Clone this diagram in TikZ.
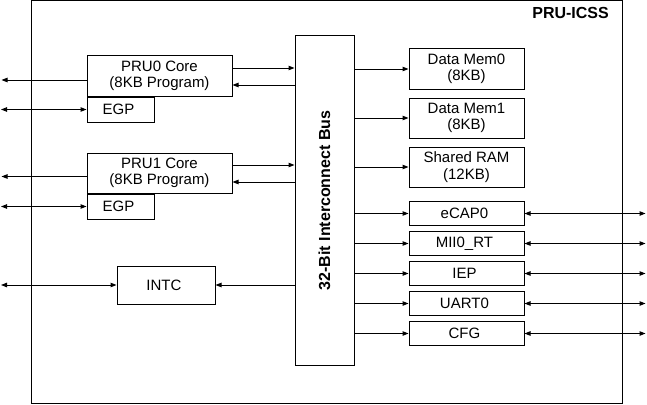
\documentclass[tikz,border=0pt]{standalone}
\usepackage{fontspec}
\setmainfont{Liberation Sans}
\usepackage{tikz}
\usetikzlibrary{
  arrows.meta,
  positioning,
  calc
}
\tikzset{
  block/.style={
    draw,
    line width=1pt,
    inner sep=0pt,
    align=center,
    font=\fontsize{15}{16.5}\selectfont
  },
  corebox/.style={
    block,
    minimum width=145pt,
    minimum height=40pt
  },
  egpbox/.style={
    block,
    minimum width=67pt,
    minimum height=25pt
  },
  membox/.style={
    block,
    minimum width=115pt,
    minimum height=40pt
  },
  periph/.style={
    block,
    minimum width=115pt,
    minimum height=24pt
  },
  busbox/.style={
    block,
    minimum width=59pt,
    minimum height=329pt
  },
  frame/.style={
    draw,
    line width=1pt,
    inner sep=0pt
  },
  title/.style={
    inner sep=0pt,
    font=\fontsize{16}{18}\selectfont\bfseries
  },
  connection/.style={
    -{Triangle[length=6pt,width=4.5pt]},
    line width=1pt
  },
  bidir/.style={
    {Triangle[length=6pt,width=4.5pt]}-{Triangle[length=6pt,width=4.5pt]},
    line width=1pt
  }
}
\begin{document}
\begin{tikzpicture}[
  x=1pt,
  y=-1pt
]

  \useasboundingbox (0,0) rectangle (647,404);

  % subsystem frame
  \node[
    frame,
    minimum width=591pt,
    minimum height=402pt
  ] (icss) at (326.5,202) {};

  \node[
    title,
    anchor=base east
  ] (icsslabel) at (609,19) {
    PRU-ICSS
  };

  % cores
  \node[
    corebox
  ] (pru0) at (159.5,76) {
    PRU0 Core\\(8KB Program)
  };

  \node[
    egpbox,
    anchor=north west
  ] (egp0) at (pru0.south west) {
    EGP
  };

  \node[
    corebox
  ] (pru1) at (159.5,173) {
    PRU1 Core\\(8KB Program)
  };

  \node[
    egpbox,
    anchor=north west
  ] (egp1) at (pru1.south west) {
    EGP
  };

  \node[
    block,
    minimum width=98pt,
    minimum height=38pt
  ] (intc) at (166,285) {
    INTC
  };

  % interconnect
  \node[
    busbox
  ] (bus) at (324.5,200.5) {};

  \node[
    title,
    rotate=90
  ] (buslabel) at (bus.center) {
    32-Bit Interconnect Bus
  };

  % memories
  \node[
    membox
  ] (dmem0) at (466.5,69) {
    Data Mem0\\(8KB)
  };

  \node[
    membox,
    below=8pt of dmem0
  ] (dmem1) {
    Data Mem1\\(8KB)
  };

  \node[
    membox,
    below=8pt of dmem1
  ] (sram) {
    Shared RAM\\(12KB)
  };

  % peripherals
  \node[
    periph,
    below=13.5pt of sram
  ] (ecap) {
    eCAP0
  };

  \node[
    periph,
    below=5pt of ecap
  ] (mii) {
    MII0\_RT
  };

  \node[
    periph,
    below=5pt of mii
  ] (iep) {
    IEP
  };

  \node[
    periph,
    below=5pt of iep
  ] (uart) {
    UART0
  };

  \node[
    periph,
    below=5pt of uart
  ] (cfg) {
    CFG
  };

  % pins
  \coordinate (pru0pin) at (1.5,80);
  \coordinate (egp0pin) at ($(egp0.west)+(-85.5,0)$);
  \coordinate (pru1pin) at (1.5,176.5);
  \coordinate (egp1pin) at ($(egp1.west)+(-85.5,0)$);
  \coordinate (intcpin) at ($(intc.west)+(-115.5,0)$);
  \coordinate (ecappin) at ($(ecap.east)+(121,0)$);
  \coordinate (miipin) at ($(mii.east)+(121,0)$);
  \coordinate (ieppin) at ($(iep.east)+(121,0)$);
  \coordinate (uartpin) at ($(uart.east)+(121,0)$);
  \coordinate (cfgpin) at ($(cfg.east)+(121,0)$);

  \coordinate (pru0tx) at ([yshift=8pt]pru0.east);
  \coordinate (pru0rx) at ([yshift=-9pt]pru0.east);
  \coordinate (pru1tx) at ([yshift=8pt]pru1.east);
  \coordinate (pru1rx) at ([yshift=-9pt]pru1.east);

  % core links
  \draw[connection]
  ([yshift=-4pt]pru0.west) --
  (pru0pin);

  \draw[bidir]
  (egp0pin) --
  (egp0.west);

  \draw[connection]
  (pru0tx) --
  (pru0tx -| bus.west);

  \draw[connection]
  (pru0rx -| bus.west) --
  (pru0rx);

  \draw[connection]
  ([yshift=-3.5pt]pru1.west) --
  (pru1pin);

  \draw[bidir]
  (egp1pin) --
  (egp1.west);

  \draw[connection]
  (pru1tx) --
  (pru1tx -| bus.west);

  \draw[connection]
  (pru1rx -| bus.west) --
  (pru1rx);

  \draw[bidir]
  (intcpin) --
  (intc.west);

  \draw[connection]
  (bus.west |- intc.east) --
  (intc.east);

  % bus to memories
  \draw[connection]
  (bus.east |- dmem0.west) --
  (dmem0.west);

  \draw[connection]
  (bus.east |- dmem1.west) --
  (dmem1.west);

  \draw[connection]
  (bus.east |- sram.west) --
  (sram.west);

  % bus to peripherals
  \draw[connection]
  (bus.east |- ecap.west) --
  (ecap.west);

  \draw[connection]
  (bus.east |- mii.west) --
  (mii.west);

  \draw[connection]
  (bus.east |- iep.west) --
  (iep.west);

  \draw[connection]
  (bus.east |- uart.west) --
  (uart.west);

  \draw[connection]
  (bus.east |- cfg.west) --
  (cfg.west);

  % external pins
  \draw[bidir]
  (ecap.east) --
  (ecappin);

  \draw[bidir]
  (mii.east) --
  (miipin);

  \draw[bidir]
  (iep.east) --
  (ieppin);

  \draw[bidir]
  (uart.east) --
  (uartpin);

  \draw[bidir]
  (cfg.east) --
  (cfgpin);

\end{tikzpicture}
\end{document}
